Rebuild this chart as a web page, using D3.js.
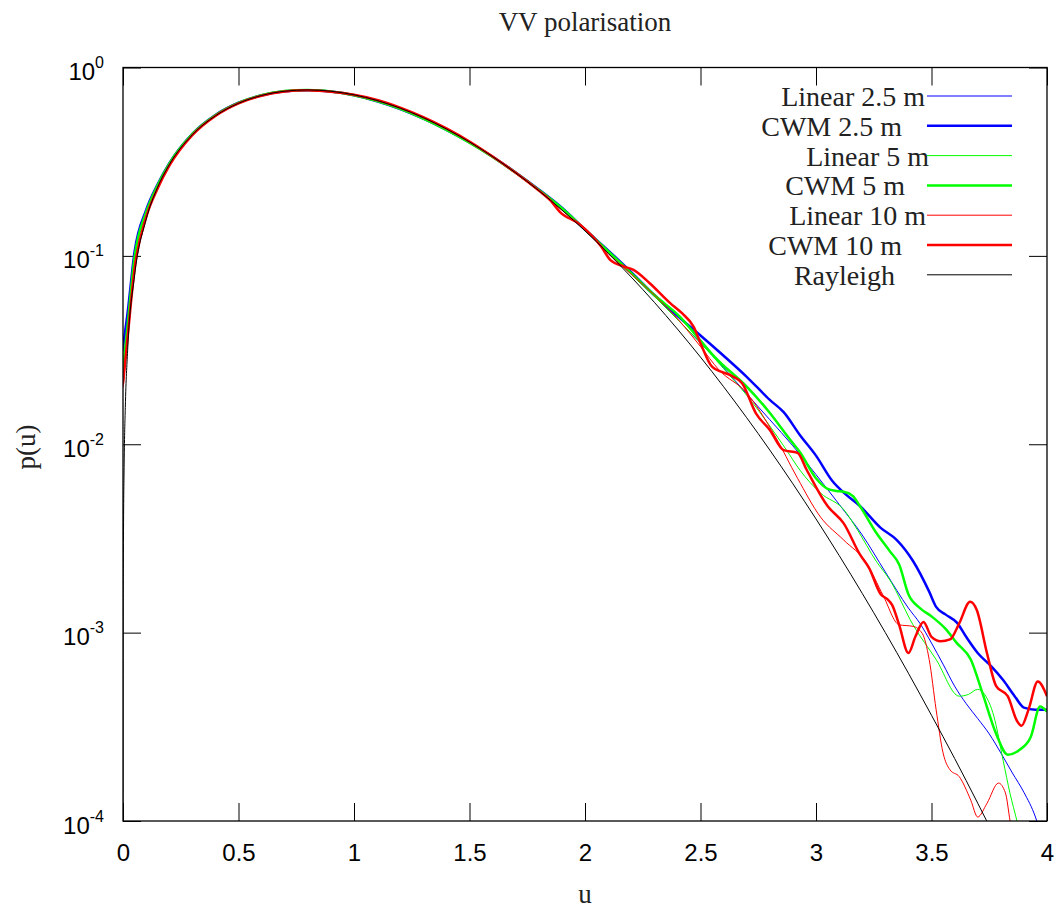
<!DOCTYPE html>
<html><head><meta charset="utf-8">
<script src="https://cdn.jsdelivr.net/npm/d3@7"></script>
<style>body{margin:0;background:#fff}</style>
</head><body><svg id="c" width="1064" height="911"></svg>
<script>
// ---------- data ----------
const xTicks = [0, 0.5, 1, 1.5, 2, 2.5, 3, 3.5, 4];
const xTickLabels = ["0", "0.5", "1", "1.5", "2", "2.5", "3", "3.5", "4"];
const yTicks = [1e-4, 1e-3, 1e-2, 1e-1, 1];
const yTickExponents = ["-4", "-3", "-2", "-1", "0"];
const seriesNames = ["Linear 2.5 m", "CWM 2.5 m", "Linear 5 m", "CWM 5 m", "Linear 10 m", "CWM 10 m", "Rayleigh"];

const linear25 = [[0,0.031],[0.02,0.048],[0.05,0.102],[0.1,0.172],[0.15,0.238],[0.2,0.309],[0.3,0.444],[0.4,0.559],[0.5,0.649],[0.6,0.711],[0.7,0.748],[0.8,0.758],[0.9,0.745],[1.0,0.712],[1.1,0.663],[1.2,0.603],[1.3,0.536],[1.4,0.467],[1.5,0.399],[1.6,0.335],[1.7,0.276],[1.8,0.224],[1.9,0.179],[2.0,0.137],[2.1,0.105],[2.2,0.080],[2.3,0.061],[2.4,0.046],[2.5,0.0345],[2.6,0.0255],[2.7,0.0185],[2.8,0.0135],[2.9,0.0098],[3.0,0.0069],[3.1,0.0048],[3.2,0.0033],[3.3,0.0021],[3.4,0.00135],[3.45,0.00112],[3.5,0.00088],[3.55,0.00068],[3.6,0.00052],[3.65,0.00042],[3.7,0.00035],[3.75,0.00029],[3.8,0.00023],[3.85,0.00018],[3.9,0.000142],[3.95,0.000105],[3.98,0.00008]];

const cwm25 = [[0,0.033],[0.02,0.05],[0.05,0.105],[0.1,0.175],[0.15,0.24],[0.2,0.31],[0.3,0.445],[0.4,0.56],[0.5,0.65],[0.6,0.712],[0.7,0.748],[0.8,0.758],[0.9,0.745],[1.0,0.712],[1.1,0.662],[1.2,0.602],[1.3,0.535],[1.4,0.467],[1.5,0.400],[1.6,0.336],[1.7,0.277],[1.8,0.225],[1.9,0.180],[2.0,0.138],[2.1,0.107],[2.2,0.082],[2.3,0.062],[2.4,0.048],[2.5,0.0378],[2.6,0.0295],[2.7,0.0228],[2.8,0.0172],[2.86,0.0148],[2.93,0.0112],[3.0,0.0087],[3.07,0.0064],[3.13,0.0054],[3.19,0.0047],[3.28,0.0036],[3.35,0.0031],[3.42,0.0024],[3.49,0.00165],[3.52,0.00137],[3.56,0.00125],[3.61,0.00113],[3.65,0.00095],[3.7,0.00078],[3.76,0.00066],[3.81,0.00056],[3.86,0.00046],[3.9,0.0004],[3.95,0.00039],[4.0,0.00039]];

const linear5 = [[0,0.024],[0.02,0.042],[0.05,0.096],[0.1,0.168],[0.15,0.236],[0.2,0.307],[0.3,0.442],[0.4,0.557],[0.5,0.648],[0.6,0.711],[0.7,0.749],[0.8,0.759],[0.9,0.746],[1.0,0.712],[1.1,0.663],[1.2,0.603],[1.3,0.536],[1.4,0.467],[1.5,0.399],[1.6,0.335],[1.7,0.276],[1.8,0.223],[1.9,0.178],[2.0,0.137],[2.1,0.105],[2.2,0.080],[2.3,0.061],[2.4,0.046],[2.5,0.0345],[2.6,0.0252],[2.7,0.0182],[2.8,0.0125],[2.87,0.0094],[2.93,0.0073],[3.02,0.0055],[3.12,0.0045],[3.18,0.0035],[3.26,0.0024],[3.32,0.0019],[3.42,0.0011],[3.52,0.00072],[3.62,0.00046],[3.66,0.00047],[3.7,0.0005],[3.73,0.00047],[3.77,0.00036],[3.81,0.00021],[3.84,0.00014],[3.87,0.0001],[3.9,0.00007]];

const cwm5 = [[0,0.025],[0.02,0.043],[0.05,0.098],[0.1,0.17],[0.15,0.237],[0.2,0.308],[0.3,0.443],[0.4,0.558],[0.5,0.649],[0.6,0.712],[0.7,0.75],[0.8,0.76],[0.9,0.746],[1.0,0.712],[1.1,0.663],[1.2,0.603],[1.3,0.536],[1.4,0.467],[1.5,0.399],[1.6,0.335],[1.7,0.276],[1.8,0.224],[1.9,0.179],[2.0,0.138],[2.1,0.106],[2.2,0.081],[2.3,0.062],[2.41,0.0476],[2.5,0.0355],[2.56,0.0292],[2.7,0.0202],[2.79,0.0152],[2.89,0.0105],[2.93,0.0091],[3.0,0.0066],[3.05,0.0058],[3.09,0.00565],[3.12,0.0056],[3.16,0.0053],[3.19,0.0047],[3.26,0.0034],[3.32,0.0027],[3.36,0.0023],[3.4,0.0016],[3.45,0.00135],[3.5,0.00122],[3.56,0.00105],[3.61,0.00088],[3.67,0.00072],[3.72,0.00048],[3.78,0.00029],[3.83,0.000225],[3.88,0.000238],[3.93,0.00028],[3.97,0.000405],[4.0,0.00038]];

const linear10 = [[0,0.02],[0.02,0.036],[0.05,0.083],[0.1,0.158],[0.15,0.227],[0.2,0.299],[0.3,0.436],[0.4,0.553],[0.5,0.645],[0.6,0.708],[0.7,0.746],[0.8,0.758],[0.9,0.745],[1.0,0.715],[1.1,0.67],[1.2,0.61],[1.3,0.543],[1.4,0.473],[1.5,0.403],[1.6,0.336],[1.7,0.276],[1.8,0.222],[1.9,0.175],[2.0,0.137],[2.1,0.103],[2.2,0.08],[2.3,0.062],[2.41,0.045],[2.5,0.033],[2.58,0.0248],[2.7,0.0187],[2.82,0.0112],[2.92,0.0066],[3.02,0.0041],[3.12,0.0031],[3.22,0.00233],[3.29,0.00158],[3.36,0.0011],[3.42,0.00108],[3.46,0.00099],[3.49,0.00072],[3.52,0.00039],[3.55,0.00023],[3.58,0.000187],[3.62,0.000172],[3.67,0.000129],[3.7,0.000105],[3.74,0.000124],[3.79,0.000159],[3.82,0.000141],[3.84,0.0001],[3.86,0.00007]];

const cwm10 = [[0,0.021],[0.02,0.037],[0.05,0.085],[0.1,0.16],[0.15,0.228],[0.2,0.3],[0.3,0.437],[0.4,0.553],[0.5,0.645],[0.6,0.708],[0.7,0.745],[0.75,0.755],[0.8,0.757],[0.85,0.752],[0.9,0.744],[1.0,0.716],[1.1,0.672],[1.2,0.612],[1.3,0.545],[1.4,0.475],[1.5,0.405],[1.6,0.337],[1.7,0.276],[1.8,0.222],[1.85,0.197],[1.89,0.172],[1.98,0.146],[2.07,0.112],[2.11,0.095],[2.17,0.0877],[2.21,0.0842],[2.28,0.0716],[2.37,0.056],[2.42,0.0496],[2.47,0.0421],[2.5,0.0344],[2.55,0.0258],[2.64,0.0229],[2.68,0.0211],[2.74,0.0146],[2.8,0.0119],[2.86,0.0093],[2.92,0.009],[2.96,0.0073],[3.05,0.0047],[3.12,0.0038],[3.19,0.0026],[3.23,0.0022],[3.28,0.0016],[3.31,0.0015],[3.33,0.0014],[3.36,0.0011],[3.4,0.00078],[3.43,0.00095],[3.465,0.00114],[3.5,0.00095],[3.54,0.0009],[3.58,0.00092],[3.62,0.00112],[3.667,0.00146],[3.696,0.00132],[3.74,0.00078],[3.78,0.00052],[3.83,0.00046],[3.87,0.00034],[3.89,0.00032],[3.92,0.00039],[3.96,0.00055],[4.0,0.00046]];

const rayleigh = [[0.00005,0.0000785],[0.0005,0.000785],[0.002,0.00314],[0.005,0.00785],[0.01,0.0157],[0.02,0.0314],[0.05,0.0784],[0.1,0.1559],[0.15,0.2315],[0.2,0.3044],[0.3,0.4391],[0.4,0.5541],[0.5,0.6454],[0.6,0.7104],[0.7,0.7483],[0.8,0.7602],[0.9,0.7483],[1.0,0.7162],[1.1,0.6680],[1.2,0.6083],[1.3,0.5416],[1.4,0.4718],[1.5,0.4025],[1.6,0.3365],[1.7,0.2759],[1.8,0.2220],[1.9,0.1752],[2.0,0.1358],[2.1,0.1033],[2.2,0.0772],[2.3,0.0567],[2.4,0.0409],[2.5,0.0290],[2.6,0.0202],[2.7,0.01383],[2.8,0.009315],[2.9,0.006165],[3.0,0.004013],[3.1,0.002570],[3.2,0.001617],[3.3,0.001001],[3.4,0.000609],[3.5,0.000364],[3.6,0.000215],[3.7,0.0001244],[3.8,0.0000709]];

// ---------- styles / layout ----------
const seriesData = [linear25, cwm25, linear5, cwm5, linear10, cwm10, rayleigh];
const seriesColors = ["#0000ff", "#0000ff", "#00ff00", "#00ff00", "#ff0000", "#ff0000", "#000000"];
const seriesWidths = [1, 2.5, 1, 2.5, 1, 2.5, 1];
const legendTextEnd = [925, 902, 929, 905, 926, 902, 895];

const W = 1064, H = 911;
const L = 123, R = 1047, T = 67.5, B = 821;
const serif = "'Liberation Serif', 'Times New Roman', serif";
const sans = "'Liberation Sans', Arial, Helvetica, sans-serif";

const svg = d3.select("#c");
svg.append("rect").attr("width", W).attr("height", H).attr("fill", "#fff");

const x = d3.scaleLinear().domain([0, 4]).range([L, R]);
const y = d3.scaleLog().domain([1e-4, 1]).range([B, T]);

svg.append("defs").append("clipPath").attr("id", "clip")
  .append("rect").attr("x", L).attr("y", T).attr("width", R - L).attr("height", B - T);

// axes
const gx = svg.append("g").attr("transform", `translate(0,${B})`)
  .call(d3.axisBottom(x).tickValues(xTicks).tickSizeInner(-18).tickSizeOuter(0)
    .tickFormat((d, i) => xTickLabels[i]));
gx.select(".domain").remove();
gx.selectAll("text").attr("dy", null).attr("y", 40)
  .style("font-family", sans).style("font-size", "24px").attr("fill", "#000");

const gxt = svg.append("g").attr("transform", `translate(0,${T})`)
  .call(d3.axisTop(x).tickValues(xTicks).tickSizeInner(-18).tickSizeOuter(0).tickFormat(""));
gxt.select(".domain").remove();

const gy = svg.append("g").attr("transform", `translate(${L},0)`)
  .call(d3.axisLeft(y).tickValues(yTicks).tickSizeInner(-18).tickSizeOuter(0).tickFormat(""));
gy.select(".domain").remove();
gy.selectAll(".tick text").each(function(d, i) {
  const t = d3.select(this).attr("dy", null).attr("x", -19).attr("y", 12)
    .attr("text-anchor", "end").attr("fill", "#000")
    .style("font-family", sans).style("font-size", "24px");
  t.text(null);
  t.append("tspan").text("10");
  t.append("tspan").attr("dy", -12).style("font-size", "16px").text(yTickExponents[i]);
});

const gyr = svg.append("g").attr("transform", `translate(${R},0)`)
  .call(d3.axisRight(y).tickValues(yTicks).tickSizeInner(-18).tickSizeOuter(0).tickFormat(""));
gyr.select(".domain").remove();

svg.selectAll(".tick line").attr("stroke", "#000").attr("stroke-width", 1);

// series
const line = d3.line().x(d => x(d[0])).y(d => y(d[1])).curve(d3.curveMonotoneX);
const plot = svg.append("g").attr("clip-path", "url(#clip)");
seriesData.forEach((s, i) => {
  plot.append("path").datum(s).attr("d", line)
    .attr("fill", "none").attr("stroke", seriesColors[i])
    .attr("stroke-width", seriesWidths[i]).attr("stroke-linejoin", "round");
});

// frame
svg.append("rect").attr("x", L).attr("y", T).attr("width", R - L).attr("height", B - T)
  .attr("fill", "none").attr("stroke", "#000").attr("stroke-width", 1.3);

// legend
seriesNames.forEach((n, i) => {
  const ly = 96 + i * 29.8;
  svg.append("text").attr("x", legendTextEnd[i]).attr("y", ly + 10)
    .attr("text-anchor", "end").style("font-family", serif).style("font-size", "28px")
    .attr("fill", "#222").text(n);
  svg.append("line").attr("x1", 927).attr("x2", 1012).attr("y1", ly).attr("y2", ly)
    .attr("stroke", seriesColors[i]).attr("stroke-width", seriesWidths[i]);
});

// titles
svg.append("text").attr("x", 585).attr("y", 31).attr("text-anchor", "middle")
  .style("font-family", serif).style("font-size", "27px").attr("fill", "#222").text("VV polarisation");
svg.append("text").attr("x", 585).attr("y", 903).attr("text-anchor", "middle")
  .style("font-family", serif).style("font-size", "27px").attr("fill", "#222").text("u");
svg.append("text").attr("transform", "translate(35,447) rotate(-90)").attr("text-anchor", "middle")
  .style("font-family", serif).style("font-size", "27px").attr("fill", "#222").text("p(u)");
</script>
</body></html>
